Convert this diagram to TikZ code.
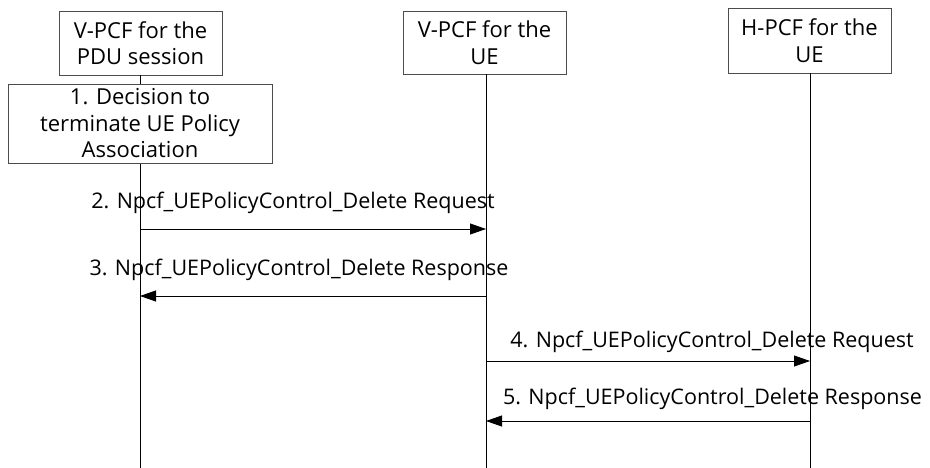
\documentclass[tikz,border=0pt]{standalone}
\usepackage{fontspec}
\setmainfont{Open Sans}
\usetikzlibrary{arrows.meta}
\tikzset{
  actor/.style={draw=black!70, line width=0.8pt, fill=white, align=center, inner sep=0pt, font=\fontsize{22}{26.5}\selectfont},
  life/.style={line width=0.8pt},
  msg/.style={line width=0.8pt, -{Triangle[length=16pt,width=11pt]}},
  lbl/.style={font=\fontsize{21.5}{25}\selectfont, inner sep=0pt, anchor=base}
}
\begin{document}
\begin{tikzpicture}[x=1pt,y=-1pt]
\useasboundingbox (0,0) rectangle (930,468);
\node[actor, minimum width=163pt, minimum height=64pt] (a) at (140.5,43) {V-PCF for the\\PDU session};
\node[actor, minimum width=163pt, minimum height=63pt] (b) at (484.5,42.5) {V-PCF for the\\UE};
\node[actor, minimum width=163pt, minimum height=65pt] (c) at (809.5,40.5) {H-PCF for the\\UE};
\coordinate (ae) at (140,468);
\coordinate (be) at (486,468);
\coordinate (ce) at (810,468);
\draw[life] (a.south -| ae) -- (ae);
\draw[life] (b.south -| be) -- (be);
\draw[life] (c.south -| ce) -- (ce);
\node[actor, minimum width=264pt, minimum height=79pt] (d) at (140,123.5) {1. Decision to\\terminate UE Policy\\Association};
\coordinate (m2s) at (140,229); \coordinate (m2e) at (486,229);
\coordinate (m3s) at (486,296); \coordinate (m3e) at (140,296);
\coordinate (m4s) at (486,361); \coordinate (m4e) at (810,361);
\coordinate (m5s) at (810,421); \coordinate (m5e) at (486,421);
\draw[msg] (m2s) -- (m2e);
\draw[msg] (m3s) -- (m3e);
\draw[msg] (m4s) -- (m4e);
\draw[msg] (m5s) -- (m5e);
\node[lbl] (l2) at (293,208) {2. Npcf\_UEPolicyControl\_Delete Request};
\node[lbl] (l3) at (299,275) {3. Npcf\_UEPolicyControl\_Delete Response};
\node[lbl] (l4) at (712,347) {4. Npcf\_UEPolicyControl\_Delete Request};
\node[lbl] (l5) at (712.5,404) {5. Npcf\_UEPolicyControl\_Delete Response};
\end{tikzpicture}
\end{document}
